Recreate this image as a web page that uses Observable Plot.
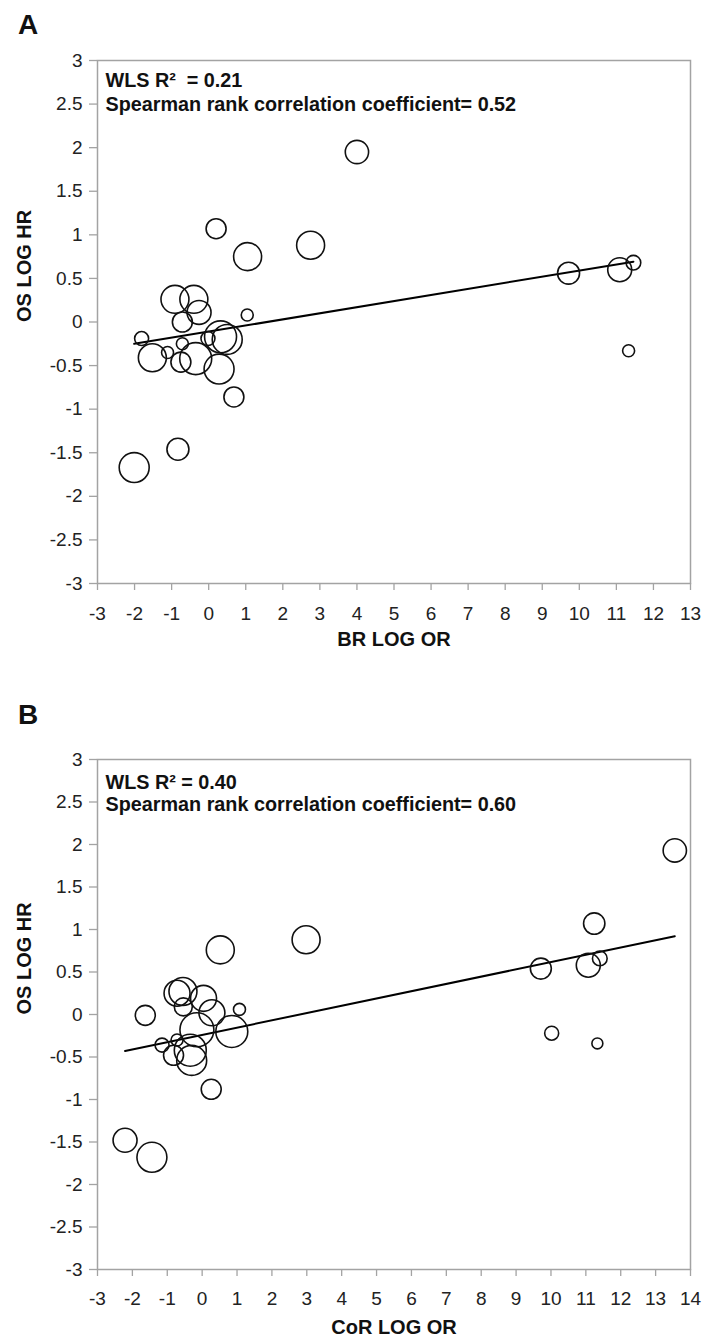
<!DOCTYPE html>
<html>
<head>
<meta charset="utf-8">
<script src="https://cdn.jsdelivr.net/npm/d3@7"></script>
<script src="https://cdn.jsdelivr.net/npm/@observablehq/plot@0.6"></script>
<style>
  body { margin: 0; background: #fff; }
  #root { position: relative; width: 703px; height: 1343px; background: #fff; overflow: hidden; }
  .plabel { position: absolute; left: 18px; font: bold 28px "Liberation Sans", Arial, sans-serif; line-height: 1; color: #111; }
  .panel { position: absolute; left: 0; }
</style>
</head>
<body>
<div id="root">
  <div class="plabel" style="top:11px">A</div>
  <div class="panel" id="panelA" style="top:45px"></div>
  <div class="plabel" style="top:701px">B</div>
  <div class="panel" id="panelB" style="top:745px"></div>
</div>
<script>
// ---------- Data ----------
const yTicks = [-3, -2.5, -2, -1.5, -1, -0.5, 0, 0.5, 1, 1.5, 2, 2.5, 3];
const xTicksA = [-3, -2, -1, 0, 1, 2, 3, 4, 5, 6, 7, 8, 9, 10, 11, 12, 13];
const xTicksB = [-3, -2, -1, 0, 1, 2, 3, 4, 5, 6, 7, 8, 9, 10, 11, 12, 13, 14];

// Panel A: BR LOG OR vs OS LOG HR (bubble weight)
const brLogOR = [4.0, 0.2, 1.05, 2.75, 9.71, 11.09, 11.46, 11.33, -0.91, -0.40, -0.26, -0.71, 1.04, -1.81, -1.52, -1.11, -0.71, -0.75, -0.35, -0.02, 0.32, 0.50, 0.28, 0.68, -0.83, -2.01];
const osLogHR_A = [1.95, 1.07, 0.75, 0.88, 0.56, 0.60, 0.68, -0.33, 0.26, 0.26, 0.11, 0.0, 0.08, -0.19, -0.41, -0.35, -0.25, -0.46, -0.42, -0.19, -0.17, -0.20, -0.54, -0.86, -1.46, -1.67];
const weightA = [136, 100, 196, 196, 121, 144, 54, 36, 196, 196, 144, 100, 36, 49, 196, 36, 36, 100, 256, 49, 256, 225, 225, 100, 121, 225];
const fitA = { intercept: -0.11, slope: 0.07 };
const statsA = ["WLS R\u00B2\u00A0 = 0.21", "Spearman rank correlation coefficient= 0.52"];

// Panel B: CoR LOG OR vs OS LOG HR
const corLogOR = [13.55, 11.24, 0.52, 2.98, 9.71, 11.07, 11.40, 11.33, -0.72, -0.55, 0.04, -1.63, 1.07, -0.54, 0.28, -1.15, -0.72, -0.82, -0.34, 10.02, -0.15, 0.85, -0.30, 0.26, -2.21, -1.44];
const osLogHR_B = [1.93, 1.07, 0.76, 0.88, 0.54, 0.58, 0.66, -0.34, 0.25, 0.27, 0.19, -0.01, 0.06, 0.09, 0.02, -0.36, -0.30, -0.48, -0.42, -0.22, -0.18, -0.20, -0.54, -0.88, -1.48, -1.68];
const weightB = [136, 114, 196, 196, 110, 144, 54, 30, 169, 196, 169, 100, 36, 81, 169, 49, 36, 100, 256, 49, 289, 256, 225, 100, 144, 225];
const fitB = { intercept: -0.24, slope: 0.0857 };
const statsB = ["WLS R\u00B2 = 0.40", "Spearman rank correlation coefficient= 0.60"];

const yLabel = "OS LOG HR";

// ---------- Drawing ----------
const FONT = '"Liberation Sans", Arial, Helvetica, sans-serif';
const GRAY = "#a3a3a3";
const TICKFONT = 19;

function panel({xs, ys, ws, xDomain, xTicks, fit, stats, xLabel, height, marginTop, marginBottom, statDy, labelDy, xTickDy}) {
  const data = xs.map((x, i) => ({x, y: ys[i], w: ws[i]}));
  const [x0, x1] = d3.extent(xs);
  const lineData = [x0, x1].map(x => ({x, y: fit.intercept + fit.slope * x}));
  return Plot.plot({
    width: 703,
    height,
    marginLeft: 97,
    marginRight: 13,
    marginTop,
    marginBottom,
    style: {fontFamily: FONT, background: "#fff", color: "#222", overflow: "visible"},
    x: {domain: xDomain},
    y: {domain: [-3, 3]},
    r: {type: "sqrt", domain: [0, 300], range: [0, 17.3]},
    marks: [
      Plot.frame({stroke: GRAY, strokeWidth: 1.5}),
      Plot.axisX({ticks: xTicks, tickSize: 7, stroke: GRAY, strokeWidth: 1.3, tickFormat: () => "", label: null}),
      Plot.axisY({ticks: yTicks, tickSize: 8, stroke: GRAY, strokeWidth: 1.3, tickFormat: () => "", label: null}),
      Plot.text(xTicks, {x: d => d, text: d => String(d), frameAnchor: "bottom", dy: xTickDy, lineAnchor: "middle", fontSize: TICKFONT, fill: "#222"}),
      Plot.text(yTicks, {y: d => d, text: d => String(d), frameAnchor: "left", dx: -15, textAnchor: "end", lineAnchor: "middle", fontSize: TICKFONT, fill: "#222"}),
      Plot.line(lineData, {x: "x", y: "y", stroke: "#000", strokeWidth: 2}),
      Plot.dot(data, {x: "x", y: "y", r: "w", stroke: "#111", strokeWidth: 1.6, fill: "none"}),
      Plot.text([stats[0]], {text: d => d, frameAnchor: "top-left", dx: 8, dy: statDy[0], lineAnchor: "top", textAnchor: "start", fontWeight: "bold", fontSize: 19.8, fill: "#111"}),
      Plot.text([stats[1]], {text: d => d, frameAnchor: "top-left", dx: 8, dy: statDy[1], lineAnchor: "top", textAnchor: "start", fontWeight: "bold", fontSize: 19.8, fill: "#111"}),
      Plot.text([xLabel], {text: d => d, frameAnchor: "bottom", dy: labelDy, fontWeight: "bold", fontSize: 20, fill: "#111"}),
      Plot.text([yLabel], {text: d => d, frameAnchor: "left", dx: -73, rotate: -90, fontWeight: "bold", fontSize: 20, fill: "#111"})
    ]
  });
}

document.getElementById("panelA").append(panel({
  xs: brLogOR, ys: osLogHR_A, ws: weightA, xDomain: [-3, 13], xTicks: xTicksA,
  fit: fitA, stats: statsA, xLabel: "BR LOG OR",
  height: 613, marginTop: 15, marginBottom: 75, statDy: [12, 36], labelDy: 62, xTickDy: 30
}));

document.getElementById("panelB").append(panel({
  xs: corLogOR, ys: osLogHR_B, ws: weightB, xDomain: [-3, 14], xTicks: xTicksB,
  fit: fitB, stats: statsB, xLabel: "CoR LOG OR",
  height: 598, marginTop: 14, marginBottom: 74, statDy: [15, 37], labelDy: 64, xTickDy: 29
}));
</script>
</body>
</html>
